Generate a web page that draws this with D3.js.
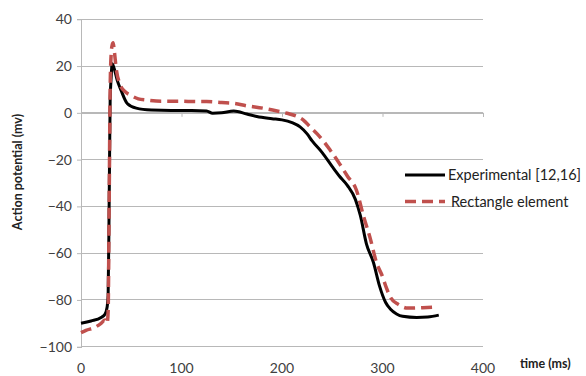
<!DOCTYPE html>
<html><head><meta charset="utf-8">
<script src="https://cdn.jsdelivr.net/npm/d3@7"></script>
<style>body{margin:0;background:#fff}svg{display:block}text{font-family:Lato,"Open Sans",sans-serif}</style>
</head><body>
<svg id="c" width="586" height="376"></svg>
<script>
const seriesNames = ["Experimental [12,16]", "Rectangle element"];
const expX = [0,10,20,24,26,27,28,29,30,31,33,36,40,46,55,70,90,110,125,131,140,152,165,175,190,200,210,218,225,230,240,250,257,265,273,278,284,291,297,303,308,314,320,334,345,356];
const expY = [-90,-89,-87.5,-86,-83,-78,-40,5,15,21,19,14,9.5,4,2,1.2,1,1,0.8,-0.2,0,0.8,-0.5,-1.6,-2.5,-3,-4.2,-6,-9,-12,-17,-23,-27,-31,-37,-44,-56,-64,-74,-81,-84,-86,-87,-87.5,-87.3,-86.5];
const recX = [0,5,14,20,24,26,27,28,29,30,31,32,33,35,39,44,49,57,65,80,98,115,125,140,152,165,181,195,205,215,221,228,235,242,248,257,265,274,281,288,294,300,304,308,316,325,340,354];
const recY = [-94,-93,-91.7,-90,-88.6,-90,-85,-40,10,25,29,30,27,19,12,9,7.6,6,5.5,5,5,4.8,4.8,4.4,4.1,3,2,0.8,-0.2,-1.5,-3,-6,-9,-12.5,-16,-21.6,-27,-33,-44,-54,-64,-70,-75,-79,-82,-83.5,-83.3,-83];
const xTicks = [0,100,200,300,400];
const yTicks = [-100,-80,-60,-40,-20,0,20,40];
const xTitle = "time (ms)";
const yTitle = "Action potential (mv)";

const svg = d3.select("#c");
const L = 81, R = 483, T = 19.3, B = 346.7;
const x = d3.scaleLinear().domain([0,400]).range([L,R]);
const y = d3.scaleLinear().domain([-100,40]).range([B,T]);
const grid = "#b8b8b8";

// gridlines
svg.append("g").selectAll("line").data(yTicks).join("line")
  .attr("x1",L).attr("x2",R).attr("y1",d=>y(d)).attr("y2",d=>y(d))
  .attr("stroke",grid).attr("stroke-width",1).attr("shape-rendering","crispEdges");

// y axis
const ya = svg.append("g").attr("transform",`translate(${L},0)`)
  .call(d3.axisLeft(y).tickValues(yTicks).tickSize(4).tickPadding(5).tickFormat(d3.format("d")));
ya.select(".domain").attr("stroke",grid).attr("shape-rendering","crispEdges");
ya.selectAll(".tick line").attr("stroke",grid);
ya.selectAll("text").attr("font-size",14).attr("fill","#404040").attr("font-family","Lato");

// x axis line at y=0 with ticks
const xa = svg.append("g").attr("transform",`translate(0,${y(0)})`)
  .call(d3.axisBottom(x).tickValues(xTicks).tickSize(4).tickFormat(""));
xa.select(".domain").attr("stroke",grid).attr("shape-rendering","crispEdges");
xa.selectAll(".tick line").attr("stroke",grid);
// x tick labels at bottom
svg.append("g").selectAll("text").data(xTicks).join("text")
  .attr("x",d=>x(d)).attr("y",373).attr("text-anchor","middle")
  .attr("font-size",14).attr("fill","#404040").text(d=>d);

const line = d3.line().x(d=>x(d[0])).y(d=>y(d[1])).curve(d3.curveMonotoneX);
svg.append("path").datum(expX.map((v,i)=>[v,expY[i]])).attr("d",line)
  .attr("fill","none").attr("stroke","#000").attr("stroke-width",3);
svg.append("path").datum(recX.map((v,i)=>[v,recY[i]])).attr("d",line)
  .attr("fill","none").attr("stroke","#c0504d").attr("stroke-width",3.5).attr("stroke-dasharray","11,6");

// legend
const lg = svg.append("g");
lg.append("line").attr("x1",405).attr("x2",445).attr("y1",175).attr("y2",175).attr("stroke","#000").attr("stroke-width",3);
lg.append("line").attr("x1",405).attr("x2",445).attr("y1",201.5).attr("y2",201.5).attr("stroke","#c0504d").attr("stroke-width",3.5).attr("stroke-dasharray","11,6");
lg.append("text").attr("x",448).attr("y",180).attr("font-size",14.5).attr("fill","#222").text(seriesNames[0]);
lg.append("text").attr("x",451).attr("y",206.5).attr("font-size",14.5).attr("fill","#222").text(seriesNames[1]);

// titles
svg.append("text").attr("x",520).attr("y",368).attr("font-size",12.5).attr("font-weight","bold").attr("fill","#222").text(xTitle);
svg.append("text").attr("transform","translate(22,172) rotate(-90)").attr("text-anchor","middle")
  .attr("font-size",12.5).attr("font-weight","bold").attr("fill","#222").text(yTitle);
</script>
</body></html>
